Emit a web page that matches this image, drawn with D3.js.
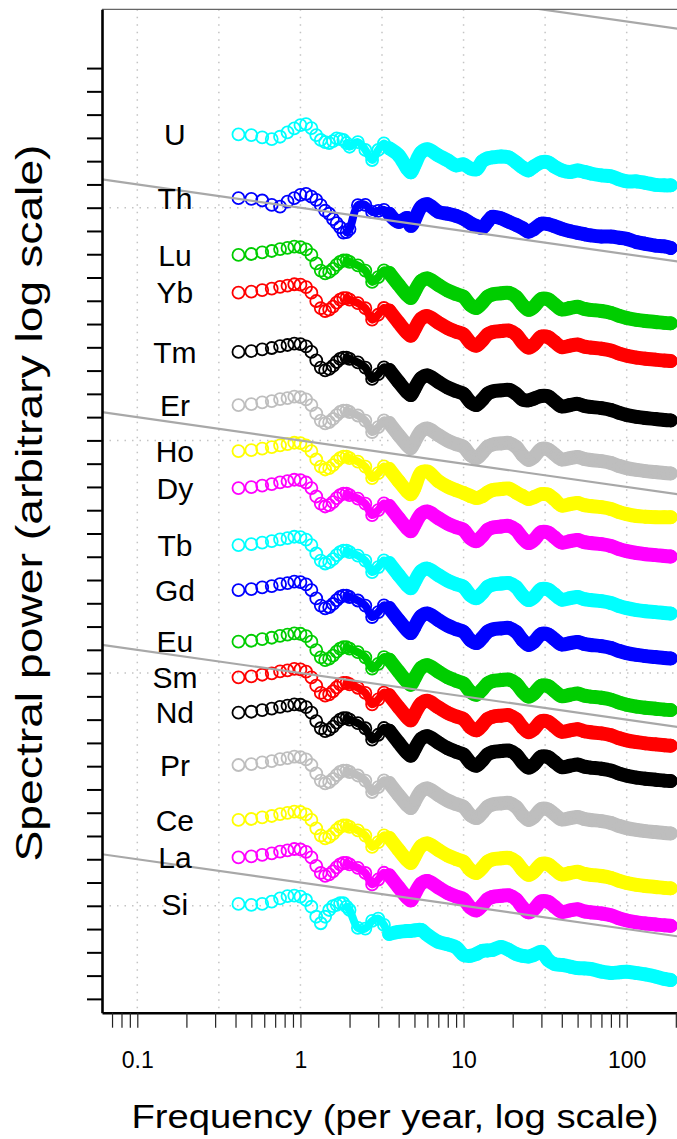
<!DOCTYPE html>
<html>
<head>
<meta charset="utf-8">
<script src="https://cdn.jsdelivr.net/npm/d3@7"></script>
<style>
  body { margin: 0; background: #fff; }
  text { font-family: "Liberation Sans", Arial, sans-serif; fill: #000; }
</style>
</head>
<body>
<div id="chart-area"></div>
<script>
const freqs = [0.417, 0.5, 0.583, 0.667, 0.75, 0.833, 0.917, 1, 1.083, 1.167, 1.25, 1.333, 1.417, 1.5, 1.583, 1.667, 1.75, 1.833, 1.917, 2,
  2.25, 2.5, 2.75, 3, 3.25, 3.5, 4, 4.5, 4.75, 5, 5.5, 6, 7, 8, 9, 10, 11, 12, 13, 14, 15, 17, 19, 21, 23, 25, 27,
  30, 33, 36, 40, 45, 50, 55, 60, 70, 80, 90, 100, 115, 130, 150, 170, 186]

const elements = ["U", "Th", "Lu", "Yb", "Tm", "Er", "Ho", "Dy", "Tb", "Gd", "Eu", "Sm", "Nd", "Pr", "Ce", "La", "Si"]
const colors = ["#00ffff", "#0000ff", "#00cd00", "#ff0000", "#000000", "#bebebe", "#ffff00", "#ff00ff",
  "#00ffff", "#0000ff", "#00cd00", "#ff0000", "#000000", "#bebebe", "#ffff00", "#ff00ff", "#00ffff"]

// log10 spectral power (arbitrary offsets)
const U = [33.15, 33.12, 33.02, 32.95, 33.05, 33.24, 33.41, 33.55, 33.59, 33.42, 33.12, 32.91, 32.82, 32.78, 32.86, 32.98, 32.95, 32.91, 32.78, 32.62,
  32.82, 32.48, 32.05, 32.48, 32.76, 32.55, 32.25, 31.69, 31.52, 31.82, 32.38, 32.51, 32.25, 32.03, 31.82, 31.86, 31.69, 31.65, 31.99, 32.12, 32.16, 32.20, 32.16, 31.95, 31.73, 31.60, 31.77,
  31.95, 31.95, 31.77, 31.60, 31.53, 31.60, 31.54, 31.47, 31.39, 31.35, 31.22, 31.13, 31.13, 31.07, 30.98, 30.96, 30.96]
const Th = [30.41, 30.38, 30.31, 30.12, 30.05, 30.26, 30.41, 30.55, 30.59, 30.48, 30.34, 30.11, 29.87, 29.74, 29.51, 29.34, 29.16, 28.93, 28.95, 29.08,
  30.11, 30.12, 29.82, 29.86, 29.91, 29.74, 29.39, 29.56, 29.22, 29.46, 30.04, 30.15, 29.82, 29.74, 29.65, 29.52, 29.34, 29.21, 29.13, 29.39, 29.61, 29.54, 29.39, 29.26, 29.12, 28.97, 29.08,
  29.31, 29.29, 29.21, 29.09, 28.99, 28.92, 28.86, 28.81, 28.76, 28.76, 28.71, 28.66, 28.52, 28.45, 28.37, 28.34, 28.27]
const Lu = [27.97, 28.01, 28.08, 28.14, 28.22, 28.27, 28.33, 28.31, 28.21, 27.97, 27.61, 27.30, 27.18, 27.24, 27.37, 27.54, 27.67, 27.73, 27.73, 27.67,
  27.52, 27.30, 26.81, 27.02, 27.31, 27.20, 26.68, 26.25, 26.12, 26.38, 26.85, 26.96, 26.68, 26.44, 26.29, 26.17, 25.82, 25.69, 25.91, 26.17, 26.27, 26.32, 26.34, 26.17, 25.82, 25.61, 25.74,
  26.08, 26.06, 25.86, 25.63, 25.69, 25.74, 25.65, 25.61, 25.56, 25.48, 25.35, 25.26, 25.18, 25.13, 25.09, 25.05, 25.03]
const Yb = [26.35, 26.39, 26.46, 26.52, 26.60, 26.65, 26.71, 26.69, 26.59, 26.35, 25.99, 25.68, 25.56, 25.62, 25.75, 25.92, 26.05, 26.11, 26.11, 26.05,
  25.90, 25.68, 25.19, 25.40, 25.69, 25.58, 25.06, 24.63, 24.50, 24.76, 25.23, 25.34, 25.06, 24.82, 24.67, 24.55, 24.20, 24.07, 24.29, 24.55, 24.65, 24.70, 24.72, 24.55, 24.20, 23.99, 24.12,
  24.46, 24.44, 24.24, 24.01, 24.07, 24.12, 24.03, 23.99, 23.94, 23.86, 23.73, 23.64, 23.56, 23.51, 23.47, 23.43, 23.41]
const Tm = [23.80, 23.84, 23.91, 23.97, 24.05, 24.10, 24.16, 24.14, 24.04, 23.80, 23.44, 23.13, 23.01, 23.07, 23.20, 23.37, 23.50, 23.56, 23.56, 23.50,
  23.35, 23.13, 22.64, 22.85, 23.14, 23.03, 22.51, 22.08, 21.95, 22.21, 22.68, 22.79, 22.51, 22.27, 22.12, 22.00, 21.65, 21.52, 21.74, 22.00, 22.10, 22.15, 22.17, 22.00, 21.75, 21.72, 21.80,
  21.91, 21.89, 21.69, 21.46, 21.52, 21.57, 21.48, 21.44, 21.39, 21.31, 21.18, 21.09, 21.01, 20.96, 20.92, 20.88, 20.86]
const Er = [21.52, 21.56, 21.63, 21.69, 21.77, 21.82, 21.88, 21.86, 21.76, 21.52, 21.16, 20.85, 20.73, 20.79, 20.92, 21.09, 21.22, 21.28, 21.28, 21.22,
  21.07, 20.85, 20.36, 20.57, 20.86, 20.75, 20.23, 19.80, 19.67, 19.93, 20.40, 20.51, 20.23, 19.99, 19.84, 19.72, 19.37, 19.24, 19.46, 19.72, 19.82, 19.87, 19.89, 19.72, 19.37, 19.16, 19.29,
  19.63, 19.61, 19.41, 19.18, 19.24, 19.29, 19.20, 19.16, 19.11, 19.03, 18.90, 18.81, 18.73, 18.68, 18.64, 18.60, 18.58]
const Ho = [19.54, 19.58, 19.65, 19.71, 19.79, 19.84, 19.90, 19.88, 19.78, 19.54, 19.18, 18.87, 18.75, 18.81, 18.94, 19.11, 19.24, 19.30, 19.30, 19.24,
  19.09, 18.87, 18.38, 18.59, 18.88, 18.77, 18.25, 17.82, 17.69, 17.95, 18.62, 18.66, 18.25, 18.01, 17.86, 17.74, 17.61, 17.52, 17.60, 17.76, 17.86, 17.91, 17.93, 17.76, 17.61, 17.48, 17.56,
  17.69, 17.67, 17.47, 17.20, 17.26, 17.31, 17.22, 17.18, 17.13, 17.05, 16.92, 16.83, 16.75, 16.72, 16.70, 16.70, 16.70]
const Dy = [17.95, 17.99, 18.06, 18.12, 18.20, 18.25, 18.31, 18.29, 18.19, 17.95, 17.59, 17.28, 17.16, 17.22, 17.35, 17.52, 17.65, 17.71, 17.71, 17.65,
  17.50, 17.28, 16.79, 17.00, 17.29, 17.18, 16.66, 16.23, 16.10, 16.36, 16.83, 16.94, 16.66, 16.42, 16.27, 16.15, 15.80, 15.67, 15.89, 16.15, 16.25, 16.30, 16.32, 16.15, 15.80, 15.59, 15.72,
  16.06, 16.04, 15.84, 15.61, 15.67, 15.72, 15.63, 15.59, 15.54, 15.46, 15.33, 15.24, 15.16, 15.11, 15.07, 15.03, 15.01]
const Tb = [15.50, 15.54, 15.61, 15.67, 15.75, 15.80, 15.86, 15.84, 15.74, 15.50, 15.14, 14.83, 14.71, 14.77, 14.90, 15.07, 15.20, 15.26, 15.26, 15.20,
  15.05, 14.83, 14.34, 14.55, 14.84, 14.73, 14.21, 13.78, 13.65, 13.91, 14.38, 14.49, 14.21, 13.97, 13.82, 13.70, 13.35, 13.22, 13.44, 13.70, 13.80, 13.85, 13.87, 13.70, 13.35, 13.14, 13.27,
  13.61, 13.59, 13.39, 13.16, 13.22, 13.27, 13.18, 13.14, 13.09, 13.01, 12.88, 12.79, 12.71, 12.66, 12.62, 12.58, 12.56]
const Gd = [13.57, 13.61, 13.68, 13.74, 13.82, 13.87, 13.93, 13.91, 13.81, 13.57, 13.21, 12.90, 12.78, 12.84, 12.97, 13.14, 13.27, 13.33, 13.33, 13.27,
  13.12, 12.90, 12.41, 12.62, 12.91, 12.80, 12.28, 11.85, 11.72, 11.98, 12.45, 12.56, 12.28, 12.04, 11.89, 11.77, 11.42, 11.29, 11.51, 11.77, 11.87, 11.92, 11.94, 11.77, 11.42, 11.21, 11.34,
  11.68, 11.66, 11.46, 11.23, 11.29, 11.34, 11.25, 11.21, 11.16, 11.08, 10.95, 10.86, 10.78, 10.73, 10.69, 10.65, 10.63]
const Eu = [11.35, 11.39, 11.46, 11.52, 11.60, 11.65, 11.71, 11.69, 11.59, 11.35, 10.99, 10.68, 10.56, 10.62, 10.75, 10.92, 11.05, 11.11, 11.11, 11.05,
  10.90, 10.68, 10.19, 10.40, 10.69, 10.58, 10.06, 9.63, 9.50, 9.76, 10.23, 10.34, 10.06, 9.82, 9.67, 9.55, 9.20, 9.07, 9.29, 9.55, 9.65, 9.70, 9.72, 9.55, 9.20, 8.99, 9.12,
  9.46, 9.44, 9.24, 9.01, 9.07, 9.12, 9.03, 8.99, 8.94, 8.86, 8.73, 8.64, 8.56, 8.51, 8.47, 8.43, 8.41]
const Sm = [9.82, 9.86, 9.93, 9.99, 10.07, 10.12, 10.18, 10.16, 10.06, 9.82, 9.46, 9.15, 9.03, 9.09, 9.22, 9.39, 9.52, 9.58, 9.58, 9.52,
  9.37, 9.15, 8.66, 8.87, 9.16, 9.05, 8.53, 8.10, 7.97, 8.23, 8.70, 8.81, 8.53, 8.29, 8.14, 8.02, 7.67, 7.54, 7.76, 8.02, 8.12, 8.17, 8.19, 8.02, 7.67, 7.46, 7.59,
  7.93, 7.91, 7.71, 7.48, 7.54, 7.59, 7.50, 7.46, 7.41, 7.33, 7.20, 7.11, 7.03, 6.98, 6.94, 6.90, 6.88]
const Nd = [8.30, 8.34, 8.41, 8.47, 8.55, 8.60, 8.66, 8.64, 8.54, 8.30, 7.94, 7.63, 7.51, 7.57, 7.70, 7.87, 8.00, 8.06, 8.06, 8.00,
  7.85, 7.63, 7.14, 7.35, 7.64, 7.53, 7.01, 6.58, 6.45, 6.71, 7.18, 7.29, 7.01, 6.77, 6.62, 6.50, 6.15, 6.02, 6.24, 6.50, 6.60, 6.65, 6.67, 6.50, 6.15, 5.94, 6.07,
  6.41, 6.39, 6.19, 5.96, 6.02, 6.07, 5.98, 5.94, 5.89, 5.81, 5.68, 5.59, 5.51, 5.46, 5.42, 5.38, 5.36]
const Pr = [6.05, 6.09, 6.16, 6.22, 6.30, 6.35, 6.41, 6.39, 6.29, 6.05, 5.69, 5.38, 5.26, 5.32, 5.45, 5.62, 5.75, 5.81, 5.81, 5.75,
  5.60, 5.38, 4.89, 5.10, 5.39, 5.28, 4.76, 4.33, 4.20, 4.46, 4.93, 5.04, 4.76, 4.52, 4.37, 4.25, 3.90, 3.77, 3.99, 4.25, 4.35, 4.40, 4.42, 4.25, 3.90, 3.69, 3.82,
  4.16, 4.14, 3.94, 3.71, 3.77, 3.82, 3.73, 3.69, 3.64, 3.56, 3.43, 3.34, 3.26, 3.21, 3.17, 3.13, 3.11]
const Ce = [3.69, 3.73, 3.80, 3.86, 3.94, 3.99, 4.05, 4.03, 3.93, 3.69, 3.33, 3.02, 2.90, 2.96, 3.09, 3.26, 3.39, 3.45, 3.45, 3.39,
  3.24, 3.02, 2.53, 2.74, 3.03, 2.92, 2.40, 1.97, 1.84, 2.10, 2.57, 2.68, 2.40, 2.16, 2.01, 1.89, 1.54, 1.41, 1.63, 1.89, 1.99, 2.04, 2.06, 1.89, 1.54, 1.33, 1.46,
  1.80, 1.78, 1.58, 1.35, 1.41, 1.46, 1.37, 1.33, 1.28, 1.20, 1.07, 0.98, 0.90, 0.85, 0.81, 0.77, 0.75]
const La = [2.08, 2.12, 2.19, 2.25, 2.33, 2.38, 2.44, 2.42, 2.32, 2.08, 1.72, 1.41, 1.29, 1.35, 1.48, 1.65, 1.78, 1.84, 1.84, 1.78,
  1.63, 1.41, 0.92, 1.13, 1.42, 1.31, 0.79, 0.36, 0.23, 0.49, 0.96, 1.07, 0.79, 0.55, 0.40, 0.28, -0.07, -0.20, 0.02, 0.28, 0.38, 0.43, 0.45, 0.28, -0.07, -0.28, -0.15,
  0.19, 0.17, -0.03, -0.26, -0.20, -0.15, -0.24, -0.28, -0.33, -0.41, -0.54, -0.63, -0.71, -0.76, -0.80, -0.84, -0.86]
const Si = [0.08, 0.04, 0.08, 0.18, 0.32, 0.42, 0.44, 0.39, 0.25, -0.04, -0.47, -0.75, -0.47, -0.18, -0.01, 0.04, 0.11, 0.11, -0.04, -0.18,
  -0.95, -0.98, -0.65, -0.55, -0.82, -1.21, -1.12, -1.08, -1.08, -1.06, -1.04, -1.25, -1.55, -1.66, -1.79, -2.11, -2.15, -2.07, -1.94, -1.92, -1.90, -1.77, -1.90, -2.07, -2.15, -2.18, -2.11,
  -1.98, -2.33, -2.50, -2.54, -2.61, -2.68, -2.69, -2.71, -2.83, -2.89, -2.86, -2.83, -2.89, -2.95, -3.04, -3.14, -3.19]

const seriesValues = [U, Th, Lu, Yb, Tm, Er, Ho, Dy, Tb, Gd, Eu, Sm, Nd, Pr, Ce, La, Si]

// reference lines of slope -1: log10 P = c - log10 f
const refIntercepts = [40, 30, 20, 10, 1]
const xTickLabels = [0.1, 1, 10, 100]
const gridFreqs = [0.1, 0.3162, 1, 3.162, 10, 31.62, 100]
const gridPowers = [0, 10, 20, 30]
const yTicks = d3.range(-4, 37)

const WIDTH = 677
const HEIGHT = 1139
const PLOT = { LEFT: 102, RIGHT: 700, TOP: 9.3, BOTTOM: 1012.7 }

const svg = d3.select("#chart-area").append("svg")
  .attr("width", WIDTH)
  .attr("height", HEIGHT)
  .style("display", "block")

svg.append("rect").attr("width", WIDTH).attr("height", HEIGHT).attr("fill", "#fff")

// anchor the log axis on its labelled decades
const xRef = d3.scaleLog().domain([0.1, 100]).range([137.3, 626.7])
const x = d3.scaleLog()
  .domain([xRef.invert(PLOT.LEFT), xRef.invert(PLOT.RIGHT)])
  .range([PLOT.LEFT, PLOT.RIGHT])

const yRef = d3.scaleLinear().domain([0, 30]).range([905.8, 207.7])
const y = d3.scaleLinear()
  .domain([yRef.invert(PLOT.BOTTOM), yRef.invert(PLOT.TOP)])
  .range([PLOT.BOTTOM, PLOT.TOP])

svg.append("clipPath").attr("id", "plot-clip")
  .append("rect")
  .attr("x", PLOT.LEFT).attr("y", PLOT.TOP)
  .attr("width", PLOT.RIGHT - PLOT.LEFT).attr("height", PLOT.BOTTOM - PLOT.TOP)

// dotted grid
const grid = svg.append("g")
  .attr("stroke", "#c4c4c4")
  .attr("stroke-width", 1.5)
  .attr("stroke-dasharray", "1.5,6")
grid.selectAll(".vgrid").data(gridFreqs).enter().append("line")
  .attr("x1", d => x(d)).attr("x2", d => x(d))
  .attr("y1", PLOT.TOP).attr("y2", PLOT.BOTTOM)
grid.selectAll(".hgrid").data(gridPowers).enter().append("line")
  .attr("x1", PLOT.LEFT).attr("x2", PLOT.RIGHT)
  .attr("y1", d => y(d)).attr("y2", d => y(d))

// spectra
const series = elements.map((name, i) => ({
  name: name,
  color: colors[i],
  points: freqs.map((f, j) => ({ f: f, v: seriesValues[i][j] }))
}))

const band = d3.line()
  .x(d => x(d.f))
  .y(d => y(d.v))
  .curve(d3.curveCatmullRom)

const g = svg.append("g").attr("clip-path", "url(#plot-clip)")

series.forEach(s => {
  const sg = g.append("g")
  // overlapping circles: a narrow core where they are packed, full width where they merge
  sg.append("path")
    .attr("d", band(s.points.filter(d => d.f >= 1.917 && d.f <= 4.5)))
    .attr("fill", "none")
    .attr("stroke", s.color)
    .attr("stroke-width", 8)
    .attr("stroke-linecap", "round")
    .attr("stroke-linejoin", "round")
  sg.append("path")
    .attr("d", band(s.points.filter(d => d.f >= 3.5)))
    .attr("fill", "none")
    .attr("stroke", s.color)
    .attr("stroke-width", 14)
    .attr("stroke-linecap", "round")
    .attr("stroke-linejoin", "round")
  sg.selectAll("circle").data(s.points).enter().append("circle")
    .attr("cx", d => x(d.f))
    .attr("cy", d => y(d.v))
    .attr("r", 6)
    .attr("fill", "none")
    .attr("stroke", s.color)
    .attr("stroke-width", 1.8)
})

// 1/f reference lines
const xEnds = x.domain()
g.selectAll(".ref").data(refIntercepts).enter().append("line")
  .attr("x1", x(xEnds[0])).attr("x2", x(xEnds[1]))
  .attr("y1", c => y(c - Math.log10(xEnds[0])))
  .attr("y2", c => y(c - Math.log10(xEnds[1])))
  .attr("stroke", "#a8a8a8")
  .attr("stroke-width", 2.2)

// frame top
svg.append("line")
  .attr("x1", PLOT.LEFT).attr("x2", PLOT.RIGHT)
  .attr("y1", PLOT.TOP).attr("y2", PLOT.TOP)
  .attr("stroke", "#666").attr("stroke-width", 1.2)

// x axis
const xAxisCall = d3.axisBottom(x)
  .tickValues(x.ticks())
  .tickSize(15)
  .tickSizeOuter(0)
  .tickFormat(d => xTickLabels.includes(d) ? String(d) : "")
const xAxis = svg.append("g")
  .attr("transform", `translate(0, ${PLOT.BOTTOM})`)
  .call(xAxisCall)
xAxis.select(".domain").attr("stroke", "#000").attr("stroke-width", 2.4)
xAxis.selectAll(".tick line").attr("stroke", "#222").attr("stroke-width", 1.2)
xAxis.selectAll(".tick text")
  .attr("y", 55.6).attr("dy", null)
  .attr("font-size", 23)
  .attr("font-family", "Liberation Sans, Arial, sans-serif")
  .attr("fill", "#000")

// y axis (unlabelled decades)
const yAxisCall = d3.axisLeft(y)
  .tickValues(yTicks)
  .tickSize(15)
  .tickSizeOuter(0)
  .tickFormat("")
const yAxis = svg.append("g")
  .attr("transform", `translate(${PLOT.LEFT}, 0)`)
  .call(yAxisCall)
yAxis.select(".domain").attr("stroke", "#000").attr("stroke-width", 2.6)
yAxis.selectAll(".tick line").attr("stroke", "#000").attr("stroke-width", 2)

// element labels
svg.selectAll(".elem-label").data(series).enter().append("text")
  .attr("x", x(0.17))
  .attr("y", d => y(d.points[0].v))
  .attr("dy", "0.36em")
  .attr("text-anchor", "middle")
  .attr("font-size", 30)
  .text(d => d.name)

// axis titles
svg.append("text")
  .attr("x", 395)
  .attr("y", 1128)
  .attr("text-anchor", "middle")
  .attr("font-size", 33)
  .attr("textLength", 527)
  .attr("lengthAdjust", "spacingAndGlyphs")
  .text("Frequency (per year, log scale)")

svg.append("text")
  .attr("transform", "translate(42, 503) rotate(-90)")
  .attr("text-anchor", "middle")
  .attr("font-size", 36)
  .attr("textLength", 717)
  .attr("lengthAdjust", "spacingAndGlyphs")
  .text("Spectral power (arbitrary log scale)")
</script>
</body>
</html>
